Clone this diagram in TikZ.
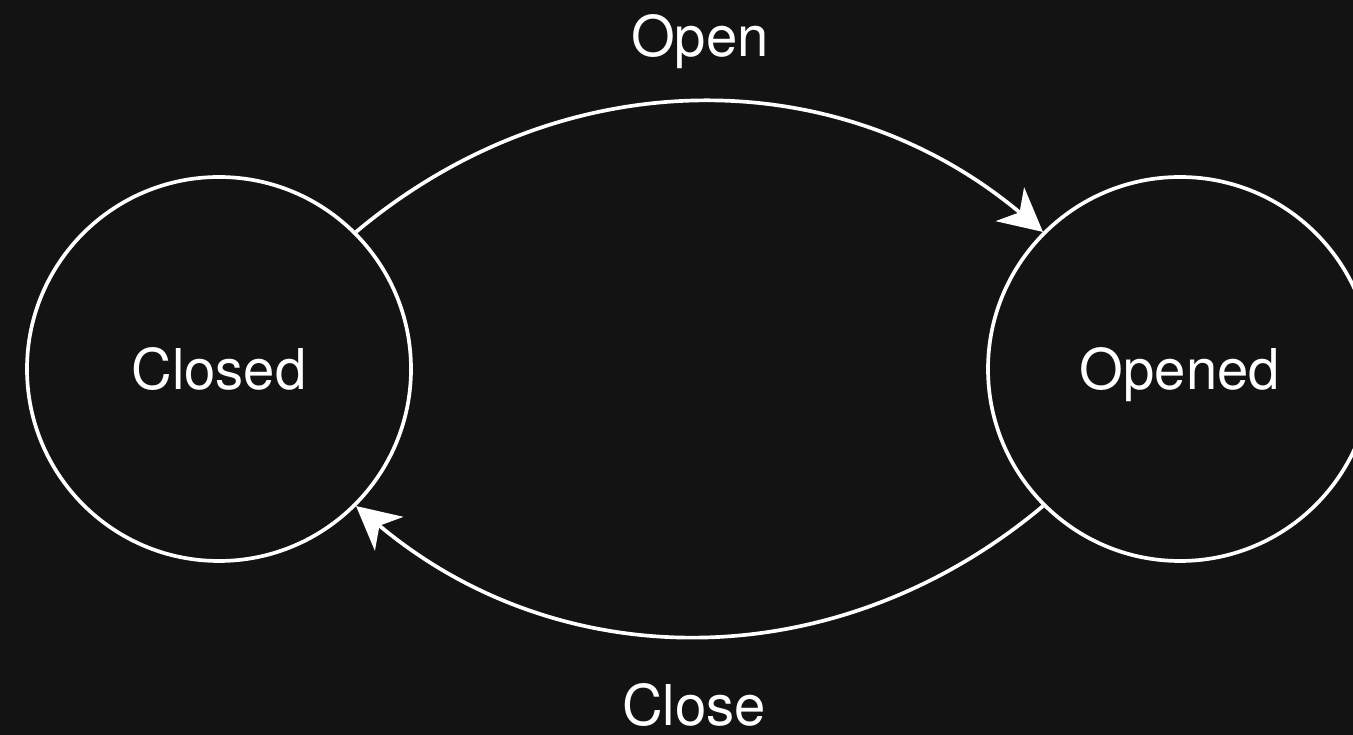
\documentclass[tikz,border=0pt]{standalone}
\usepackage{fontspec}
\setmainfont{TeX Gyre Heros}
\usepackage{xcolor}
\usetikzlibrary{arrows.meta}
\definecolor{bgdark}{HTML}{131313}

\begin{document}
\begin{tikzpicture}[
      state/.style = {circle, draw=white, line width=2.1pt,
                      minimum size=7.68cm, text=white, text depth=0pt,
                      font=\fontsize{32}{38}\selectfont},
      label/.style = {text=white, font=\fontsize{32}{38}\selectfont,
                      anchor=base, inner sep=0pt},
      arrow/.style = {-{Stealth[length=0.86cm, width=0.88cm, inset=0.25cm]},
                      draw=white, line width=2.1pt}
    ]
    \fill[bgdark] (0,0) rectangle (27.06,14.7);
    \clip (0,0) rectangle (27.06,14.7);

    \node[state] (closed) at (4.38,7.32)  {Closed};
    \node[state] (opened) at (23.6,7.32)  {Opened};

    \node[label] (open)  at (14.0,13.56) {Open};
    \node[label] (close) at (13.88,0.2) {Close};

    \draw[arrow] (closed.45)   to[out=40,  in=140] (opened.135);
    \draw[arrow] (opened.-135) to[out=-140, in=-40] (closed.-45);
  \end{tikzpicture}
\end{document}
